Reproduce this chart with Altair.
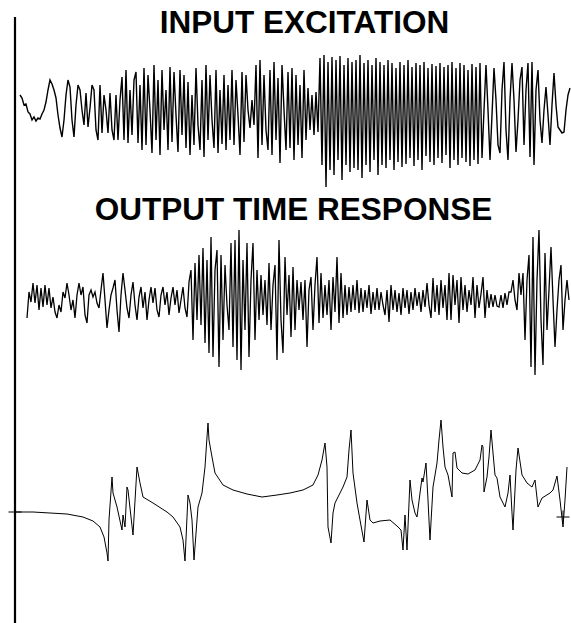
import altair as alt
import pandas as pd

W, H = 571, 623

TITLES = ["INPUT EXCITATION", "OUTPUT TIME RESPONSE"]

# Input excitation record (counts), one value per sample
INPUT = [
    25, 22, 15, 16, 8, 6, 0, 3, -1, 2,
    1, 6, 10, 18, 30, 40, 36, 30, 22, 5,
    -8, -17, 0, 25, 40, 33, 0, -17, 15, 35,
    30, 10, -5, 27, -7, 12, 35, 30, -10, -20,
    35, -13, 25, 10, -13, 27, -10, -20, 25, -20,
    20, 43, -20, 50, -23, 30, -15, 40, 48, -23,
    35,
    -30, 52, -25, 45, 10, -33, 55, -20, 40, -35,
    50, -10, 30, -30, 53, -22, 48, 5, -32, 50,
    -15, 45, -28, 38,
    -35, 25, -25, 52, -5, -30, 40, -37, 55, -20,
    45, 0, -28, 50, -33, 30, -24, 45, -30, 35,
    -20, 50, -25, 40, 5, -35, 48, -22, 45,
    10, -8, 20, -5,
    55, -38, 60, -25, 45, -10, -30, 50, -35, 58,
    -20, 42, -43, 55, 10, -30, 48, -28, 52, -40,
    45, -25, 35, -38, 50, -20,
    32, -10, 25, -15, 28, -12,
    62, -45, 65, -67, 58, -50, 63, -55, 60, -40,
    64, -60, 55, -45, 62, -52, 58, -48, 60, -50,
    65, -58, 57, -45, 60, -52, 55, -40, 62, -55,
    58,
    -45, 55, -48, 60, -40, 57, -50, 52, -42, 58,
    -47, 55, -44, 60, -38, 53, -46, 57, -40, 55,
    -50, 58, -36, 52, -42, 56, -45, 54, -38, 57,
    -43, 53, -35, 55, -48, 58, -40, 52, -45, 57,
    -38, 55, -42, 50, -46, 56, -40, 53, -44, 57,
    -38, 10, 55, 10, -40, 5, 52, 20, -25, -33,
    30, 58, -10, -40, 20, 57, 20, -32, 0, 40,
    53, -25, 30, 57, -37, 58, -45, 30, 50, 0,
    -23, 10, 33, 5, -25, 15, 47, 15, -7, -10,
    -13, -12, 10, 25, 32,
]

# Output time response (counts), one value per sample
OUTPUT = [
    -18, 8, -2, 17, -3, 15, -10, 12, -7, 15,
    -5, 12, -8, 3, -12, -18, -5, -12, 8, 2,
    17, 5, -10, 0, -18, 5, 17, 5, 13, -15,
    -23, 5, 10, 3, 8, -3, -8, 10, 27, 0,
    -28, -10, 5, 12, 20, -10, -32, 5, 27, 10,
    -8, -18, 5, 18, -5, -20, 3, 13, -8, 8,
    -20, 0, 13, -3, 12, -10, -17, 5, 13, -5,
    8, -15, 2, 13, -5, 10, -13, 0, 13, -8,
    -17, 18,
    30, -40, 37, -20, 45, -25, 52, -43, 40, -53,
    63, -57, 30, 50, -67, 45, -40, 35, -5, -30,
    57, -47, 60, -60, 70, -70, 40, -30, 57, -57,
    20, 57, -40, 30, -20,
    25, -15, 20, -25, 37, -30, 15, 35, -60, 60,
    -20, -53, 43, -15, 25, -37, 33, -30, 20, -10,
    18, -20, 20, -47, 10, 23, -30, 15, 43, -23,
    27, -18, 15, -15, 20,
    -30, 23, -12, 43, -23, 27, -18, 15, -15, 13,
    -12, 15, -10, 20, -13, 12, -12, 10, -8, 15,
    -14, 8, -10, 12,
    -10, 8, -5, -15, 10, -22, 15, -10, 10, -12,
    7, -15, 12, -8, 10, -14, 8, -10, 12, -6,
    8, -12, 10, -7, 17, -5, -18, 22, -12, 15,
    -15, 20, -8, 15, -20, 27, -20, 25, -5, 20,
    -23, 23, -10, 15, -12, 10, -5, 23, -18, 15,
    -8, 6, 23, -18, 10, -8, 6, -7, 5, -6,
    -7, 5, -8, 7, -5, 8,
    8, 20, 0, -10, 27, 5, 27, -40, 20, 45,
    -67, 63, -75, 20, 70, -20, -65, 47, -30, 10,
    53, 0, -47, -10, 20, 35, -30, 0, 20, 0,
]

# Frequency response: frequency bin and magnitude
FRF_FREQ = [
    0, 18, 35, 52, 68, 78, 85, 89, 92, 93,
    94, 97, 98, 102, 107, 108, 110, 112, 113, 118,
    122, 125, 128, 138, 152, 158, 165, 168, 170, 173,
    175, 177, 179, 182, 183, 187, 190, 192, 193, 194,
    197, 200, 208, 218, 232, 247, 262, 275, 288, 298,
    303, 307, 310, 312, 313, 316, 318, 320, 323, 328,
    332, 334, 336, 338, 342, 345, 349, 352, 355, 358,
    365, 375, 382, 386, 388, 390, 392, 395, 397, 400,
    402, 405, 407, 408, 411, 413, 415, 418, 422, 424,
    426, 428, 430, 433, 437, 438, 440, 442, 447, 453,
    460, 465, 467, 468, 469, 472, 474, 476, 478, 480,
    482, 485, 490, 493, 495, 497, 498, 501, 503, 507,
    512, 517, 520, 523, 527, 535, 538, 542, 545, 548,
    550, 552,
]
FRF_MAG = [
    8, 8, 7, 6, 3, -1, -7, -17, -33, -41,
    0, 43, 27, 13, -10, 5, -7, 33, 30, -15,
    53, 37, 23, 17, 8, 3, -7, -20, -41, 25,
    17, 0, -40, 0, 13, 27, 53, 83, 97, 80,
    63, 47, 35, 30, 26, 23, 25, 27, 30, 35,
    45, 60, 77, 53, -7, -23, 7, 17, 23, 33,
    43, 70, 90, 47, 17, 0, -22, 20, 0, -3,
    -1, 0, -6, -10, -30, 5, -30, 40, 20, 7,
    3, 27, 42, 38, 57, 20, -20, 33, 57, 80,
    100, 73, 53, 45, 23, 67, 68, 52, 47, 46,
    50, 60, 75, 73, 28, 43, 63, 90, 67, 45,
    42, 23, 13, 27, 45, 7, -10, 50, 72, 45,
    37, 33, 40, 13, 22, 27, 30, 44, 20, -7,
    20, 53,
]

# Reference "+" markers on the frequency response
MARK_FREQ = [0, 548]
MARK_MAG = [8, 3]

# Layout: where each trace sits on the page (pixels, pixels per sample)
IN_X0, IN_DX, IN_BASE = 20, 2, 120
OUT_X0, OUT_DX, OUT_BASE = 27, 2, 300
FRF_X0, FRF_BASE = 15, 520


def x_scale(origin, ppu):
    return alt.Scale(domain=[-origin / ppu, (W - origin) / ppu],
                     range=[0, W], nice=False, zero=False)


def y_scale(base, ppu=1.0):
    return alt.Scale(domain=[-(H - base) / ppu, base / ppu],
                     range=[H, 0], nice=False, zero=False)


df_in = pd.DataFrame({"n": range(len(INPUT)), "a": INPUT})
df_out = pd.DataFrame({"n": range(len(OUTPUT)), "a": OUTPUT})
df_frf = pd.DataFrame({"f": FRF_FREQ, "m": FRF_MAG})
df_mark = pd.DataFrame({"f": MARK_FREQ, "m": MARK_MAG})

axis_line = alt.Chart(pd.DataFrame({"k": [0]})).mark_rule(
    color="black", strokeWidth=2.2
).encode(x=alt.value(15), y=alt.value(17), y2=alt.value(H))

input_line = alt.Chart(df_in).mark_line(color="black", strokeWidth=1.4).encode(
    x=alt.X("n:Q", scale=x_scale(IN_X0, IN_DX), axis=None),
    y=alt.Y("a:Q", scale=y_scale(IN_BASE), axis=None),
)

output_line = alt.Chart(df_out).mark_line(color="black", strokeWidth=1.3).encode(
    x=alt.X("n:Q", scale=x_scale(OUT_X0, OUT_DX), axis=None),
    y=alt.Y("a:Q", scale=y_scale(OUT_BASE), axis=None),
)

frf_line = alt.Chart(df_frf).mark_line(color="black", strokeWidth=1.0).encode(
    x=alt.X("f:Q", scale=x_scale(FRF_X0, 1), axis=None),
    y=alt.Y("m:Q", scale=y_scale(FRF_BASE), axis=None),
)

frf_marks = alt.Chart(df_mark).mark_point(
    shape="M-1,0H1M0,-1V1", filled=False, color="black", strokeWidth=1.0, size=170, opacity=1
).encode(
    x=alt.X("f:Q", scale=x_scale(FRF_X0, 1), axis=None),
    y=alt.Y("m:Q", scale=y_scale(FRF_BASE), axis=None),
)

title_font = dict(font="Liberation Sans", fontWeight="bold", fontSize=31.5,
                  color="black", align="center", baseline="alphabetic")

title_in = alt.Chart(pd.DataFrame({"t": [TITLES[0]]})).mark_text(**title_font).encode(
    text="t:N", x=alt.value(304.5), y=alt.value(33)
)
title_out = alt.Chart(pd.DataFrame({"t": [TITLES[1]]})).mark_text(**title_font).encode(
    text="t:N", x=alt.value(293.5), y=alt.value(220)
)

chart = alt.layer(
    axis_line, input_line, output_line, frf_line, frf_marks, title_in, title_out
).resolve_scale(
    x="independent", y="independent"
).properties(
    width=W, height=H, padding=0, autosize="none", background="white"
).configure_view(stroke=None)

chart.save("out.html", embed_options={"renderer": "svg", "actions": False})
